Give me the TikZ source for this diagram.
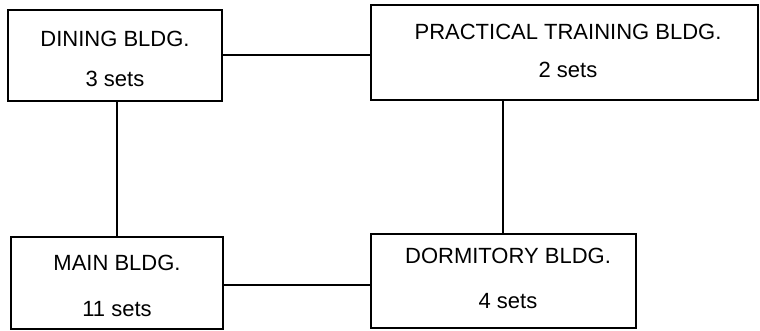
\documentclass[tikz,border=0pt]{standalone}
\usepackage{fontspec}
\setmainfont{Liberation Sans}
\tikzset{
  bldg/.style={draw, line width=2.6pt, rectangle, inner sep=0pt, outer sep=0pt},
  lbl/.style={anchor=base, inner sep=0pt, font=\fontsize{22}{26}\selectfont},
  link/.style={line width=2.6pt},
}
\begin{document}
\begin{tikzpicture}[x=1pt, y=-1pt]
  \useasboundingbox (0,0) rectangle (760,331);
  % building boxes
  \node[bldg, minimum width=214pt, minimum height=91pt] (dining) at (115,55.5) {};
  \node[bldg, minimum width=387pt, minimum height=95pt] (practical) at (564.5,52.5) {};
  \node[bldg, minimum width=212pt, minimum height=92pt] (main) at (117,283) {};
  \node[bldg, minimum width=265pt, minimum height=94pt] (dorm) at (503.5,281) {};
  % labels
  \node[lbl] (diningname) at (115,47) {DINING BLDG.};
  \node[lbl] (diningsets) at (115,87) {3 sets};
  \node[lbl] (practicalname) at (568,40) {PRACTICAL TRAINING BLDG.};
  \node[lbl] (practicalsets) at (568,78) {2 sets};
  \node[lbl] (mainname) at (117,270) {MAIN BLDG.};
  \node[lbl] (mainsets) at (117,316) {11 sets};
  \node[lbl] (dormname) at (508,263) {DORMITORY BLDG.};
  \node[lbl] (dormsets) at (508,308) {4 sets};
  % connectors
  \coordinate (west) at (117,0);
  \coordinate (east) at (503,0);
  \coordinate (top) at (0,55);
  \coordinate (bottom) at (0,285);
  \draw[link] (west |- dining.south) -- (west |- main.north);
  \draw[link] (east |- practical.south) -- (east |- dorm.north);
  \draw[link] (dining.east |- top) -- (practical.west |- top);
  \draw[link] (main.east |- bottom) -- (dorm.west |- bottom);
\end{tikzpicture}
\end{document}
